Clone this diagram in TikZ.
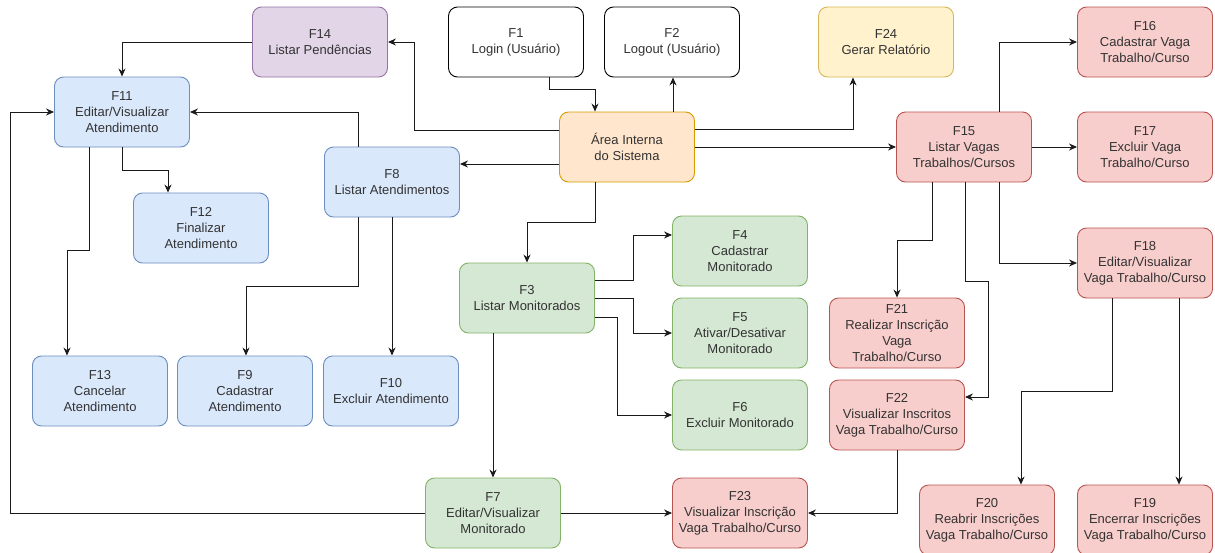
\documentclass[tikz,border=0pt]{standalone}
\usepackage{fontspec}
\setmainfont{Liberation Sans}
\usetikzlibrary{arrows.meta}
\definecolor{bfill}{HTML}{DAE8FC}\definecolor{bdraw}{HTML}{6C8EBF}
\definecolor{pfill}{HTML}{E1D5E7}\definecolor{pdraw}{HTML}{9673A6}
\definecolor{gfill}{HTML}{D5E8D4}\definecolor{gdraw}{HTML}{82B366}
\definecolor{rfill}{HTML}{F8CECC}\definecolor{rdraw}{HTML}{B85450}
\definecolor{yfill}{HTML}{FFF2CC}\definecolor{ydraw}{HTML}{D6B656}
\definecolor{ofill}{HTML}{FFE6CC}\definecolor{odraw}{HTML}{D79B00}
\definecolor{txt}{HTML}{333333}
\definecolor{linec}{HTML}{1A1A1A}
\tikzset{
 box/.style={draw, rounded corners=9pt, minimum width=135pt, minimum height=70pt,
   align=center, font=\fontsize{13}{16}\selectfont, text=txt, line width=0.9pt, inner sep=1pt},
 whitebox/.style={box, fill=white, draw=black},
 bluebox/.style={box, fill=bfill, draw=bdraw},
 purplebox/.style={box, fill=pfill, draw=pdraw},
 greenbox/.style={box, fill=gfill, draw=gdraw},
 redbox/.style={box, fill=rfill, draw=rdraw},
 yellowbox/.style={box, fill=yfill, draw=ydraw},
 orangebox/.style={box, fill=ofill, draw=odraw},
 arr/.style={-{Stealth[length=8pt,width=7pt]}, line width=0.9pt, draw=linec},
}
\begin{document}
\begin{tikzpicture}[x=1pt,y=-1pt]
\useasboundingbox (0,0) rectangle (1215,552);
% nodes
\node[purplebox] (F14) at (320,42) {F14\\Listar Pendências};
\node[whitebox] (F1) at (516,42) {F1\\Login (Usuário)};
\node[whitebox] (F2) at (672,42) {F2\\Logout (Usuário)};
\node[yellowbox] (F24) at (886,42) {F24\\Gerar Relatório};
\node[redbox] (F16) at (1145,42) {F16\\Cadastrar Vaga\\Trabalho/Curso};
\node[bluebox] (F11) at (122,112) {F11\\Editar/Visualizar\\Atendimento};
\node[orangebox] (Area) at (627,147) {Área Interna\\do Sistema};
\node[bluebox] (F8) at (392,182) {F8\\Listar Atendimentos};
\node[redbox] (F15) at (964,147) {F15\\Listar Vagas\\Trabalhos/Cursos};
\node[redbox] (F17) at (1145,147) {F17\\Excluir Vaga\\Trabalho/Curso};
\node[bluebox] (F12) at (201,228) {F12\\Finalizar\\Atendimento};
\node[greenbox] (F4) at (740,251) {F4\\Cadastrar\\Monitorado};
\node[greenbox] (F3) at (527,298) {F3\\Listar Monitorados};
\node[redbox] (F18) at (1145,263) {F18\\Editar/Visualizar\\Vaga Trabalho/Curso};
\node[greenbox] (F5) at (740,333) {F5\\Ativar/Desativar\\Monitorado};
\node[redbox] (F21) at (897,333) {F21\\Realizar Inscrição\\Vaga\\Trabalho/Curso};
\node[bluebox] (F13) at (100,391) {F13\\Cancelar\\Atendimento};
\node[bluebox] (F9) at (245,391) {F9\\Cadastrar\\Atendimento};
\node[bluebox] (F10) at (391,391) {F10\\Excluir Atendimento};
\node[greenbox] (F6) at (740,415) {F6\\Excluir Monitorado};
\node[redbox] (F22) at (897,415) {F22\\Visualizar Inscritos\\Vaga Trabalho/Curso};
\node[greenbox] (F7) at (493,513) {F7\\Editar/Visualizar\\Monitorado};
\node[redbox] (F23) at (740,513) {F23\\Visualizar Inscrição\\Vaga Trabalho/Curso};
\node[redbox] (F20) at (987,520) {F20\\Reabrir Inscrições\\Vaga Trabalho/Curso};
\node[redbox] (F19) at (1145,520) {F19\\Encerrar Inscrições\\Vaga Trabalho/Curso};
% connectors
\draw[arr] (F1.south -| 549,0) |- (595,89) -- (Area.north -| 595,0);
\draw[arr] (Area.north -| 673,0) -- (F2.south -| 673,0);
\draw[arr] (Area.west |- 0,130) -| (414,42) -- (F14.east |- 0,42);
\draw[arr] (Area.west |- 0,164) -- (F8.east |- 0,164);
\draw[arr] (Area.east |- 0,129) -| (F24.south -| 853,0);
\draw[arr] (Area.east) -- (F15.west);
\draw[arr] (Area.south -| 595,0) |- (527,222) -- (F3.north);
\draw[arr] (F14.west) -| (F11.north);
\draw[arr] (F8.north -| 358,0) |- (F11.east);
\draw[arr] (F7.west) -| (10,112) -- (F11.west);
\draw[arr] (F11.south) |- (168,170) -- (F12.north -| 168,0);
\draw[arr] (F11.south -| 89,0) |- (67,250) -- (F13.north -| 67,0);
\draw[arr] (F8.south -| 358,0) |- (246,286) -- (F9.north -| 246,0);
\draw[arr] (F8.south) -- (F10.north -| F8.south);
\draw[arr] (F3.east |- 0,280) -| (633,235) -- (F4.west |- 0,235);
\draw[arr] (F3.east) -| (633,333) -- (F5.west);
\draw[arr] (F3.east |- 0,317) -| (617,415) -- (F6.west);
\draw[arr] (F3.south -| F7.north) -- (F7.north);
\draw[arr] (F7.east) -- (F23.west);
\draw[arr] (F22.south) |- (F23.east);
\draw[arr] (F15.north -| 999,0) |- (F16.west);
\draw[arr] (F15.east) -- (F17.west);
\draw[arr] (F15.south -| 999,0) |- (F18.west);
\draw[arr] (F15.south -| 932,0) |- (897,240) -- (F21.north);
\draw[arr] (F15.south -| 965,0) |- (988,281) |- (F22.east |- 0,397);
\draw[arr] (F18.south -| 1112,0) |- (1021,391) -- (F20.north -| 1021,0);
\draw[arr] (F18.south -| 1179,0) -- (F19.north -| 1179,0);
\end{tikzpicture}
\end{document}
